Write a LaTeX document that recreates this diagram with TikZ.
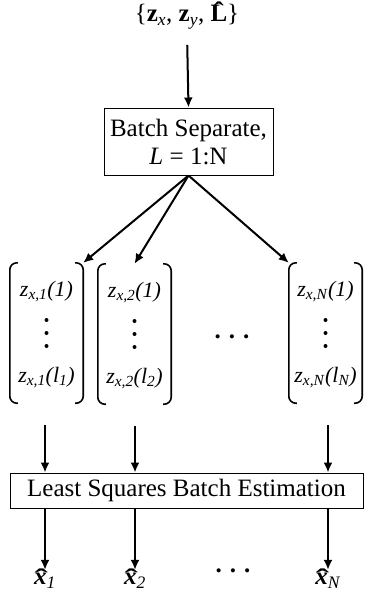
\documentclass[tikz,border=0pt]{standalone}
\usepackage{fontspec}
\setmainfont{Liberation Serif}
\usepackage{tikz}
\usetikzlibrary{arrows.meta, positioning}

\newcommand{\zel}[2]{\textit{z}\textsubscript{\textit{#1}}\textit{(#2)}}
\newcommand{\hatx}{\ooalign{\textbf{\textit{x}}\cr\hidewidth\kern2pt\raisebox{-2pt}{\scalebox{1.6}[1]{\textbf{^^^^02c6}}}\hidewidth\cr}}
\newcommand{\hatL}{\ooalign{\textbf{L}\cr\hidewidth\raisebox{2pt}{\scalebox{1.2}[1]{\textbf{^^^^02c6}}}\hidewidth\cr}}
\newcommand{\xest}[1]{\hatx\textsubscript{\textit{#1}}}
\newcommand{\hdotz}{\textbf{.}\hspace{8pt}\textbf{.}\hspace{8pt}\textbf{.}}

\begin{document}
\begin{tikzpicture}[x=1pt, y=-1pt, font=\fontsize{25}{28}\selectfont]
\tikzstyle{block} = [rectangle, draw, line width=1pt, text centered, inner sep=2pt]
\tikzstyle{batch} = [rectangle, minimum width=73pt, minimum height=140pt, inner sep=0pt]
\tikzstyle{entry} = [font=\fontsize{22}{24}\selectfont, inner sep=0pt]
\tikzstyle{vdot} = [circle, fill, inner sep=0pt, minimum size=4pt]
\tikzstyle{paren} = [line width=1.6pt, rounded corners=7pt]
\tikzstyle{arrow} = [line width=2pt, -{Latex[length=10pt, width=9pt]}]

\useasboundingbox (0,0) rectangle (366,598);

\node (in) at (187,17) {\{\textbf{z}\textsubscript{\textit{x}}, \textbf{z}\textsubscript{\textit{y}}, \hatL\}};
\node (bs) [block, minimum width=169pt, minimum height=67pt, align=center] at (188.5,141.5) {Batch Separate,\\\textit{L} = 1:N};

% batches
\node (g1) [batch] at (46.5,333) {};
\node (g2) [batch] at (134.5,334) {};
\node (gN) [batch] at (325.5,333) {};

\foreach \g/\k in {g1/1, g2/2, gN/N} {
  \node (\g top) [entry] at ([yshift=-29pt]\g.north) {\zel{x,\k}{1}};
  \node (\g bot) [entry] at ([yshift=26pt]\g.south) {\zel{x,\k}{l\textsubscript{\k}}};
  \node (\g d1) [vdot] at ([yshift=13pt]\g.center) {};
  \node (\g d2) [vdot] at (\g.center) {};
  \node (\g d3) [vdot] at ([yshift=-13pt]\g.center) {};
  \draw[paren] ([xshift=8pt]\g.north west) -- (\g.north west) -- (\g.south west) -- ([xshift=8pt]\g.south west);
  \draw[paren] ([xshift=-8pt]\g.north east) -- (\g.north east) -- (\g.south east) -- ([xshift=-8pt]\g.south east);
}
\node (gdots) at (232,337) {\hdotz};

\node (ls) [block, minimum width=353pt, minimum height=35pt] at (186.5,490.5) {Least Squares Batch Estimation};

% estimates
\node (x1) at (45,581) {\xest{1}};
\node (x2) at (135,581) {\xest{2}};
\node (xN) at (328,581) {\xest{N}};
\node (xdots) at (233,571) {\hdotz};

\draw [arrow, shorten <=12pt] (in.south) -- (bs.north);
\draw [arrow] (bs.south) -- (g1.north east);
\draw [arrow] (bs.south) -- (g2.north);
\draw [arrow] (bs.south) -- (gN.north west);
\draw [arrow, shorten <=22pt] (g1.south -| x1) -- (x1 |- ls.north);
\draw [arrow, shorten <=22pt] (g2.south -| x2) -- (x2 |- ls.north);
\draw [arrow, shorten <=22pt] (gN.south -| xN) -- (xN |- ls.north);
\draw [arrow] (x1 |- ls.south) -- (x1);
\draw [arrow] (x2 |- ls.south) -- (x2);
\draw [arrow] (xN |- ls.south) -- (xN);

\end{tikzpicture}
\end{document}
